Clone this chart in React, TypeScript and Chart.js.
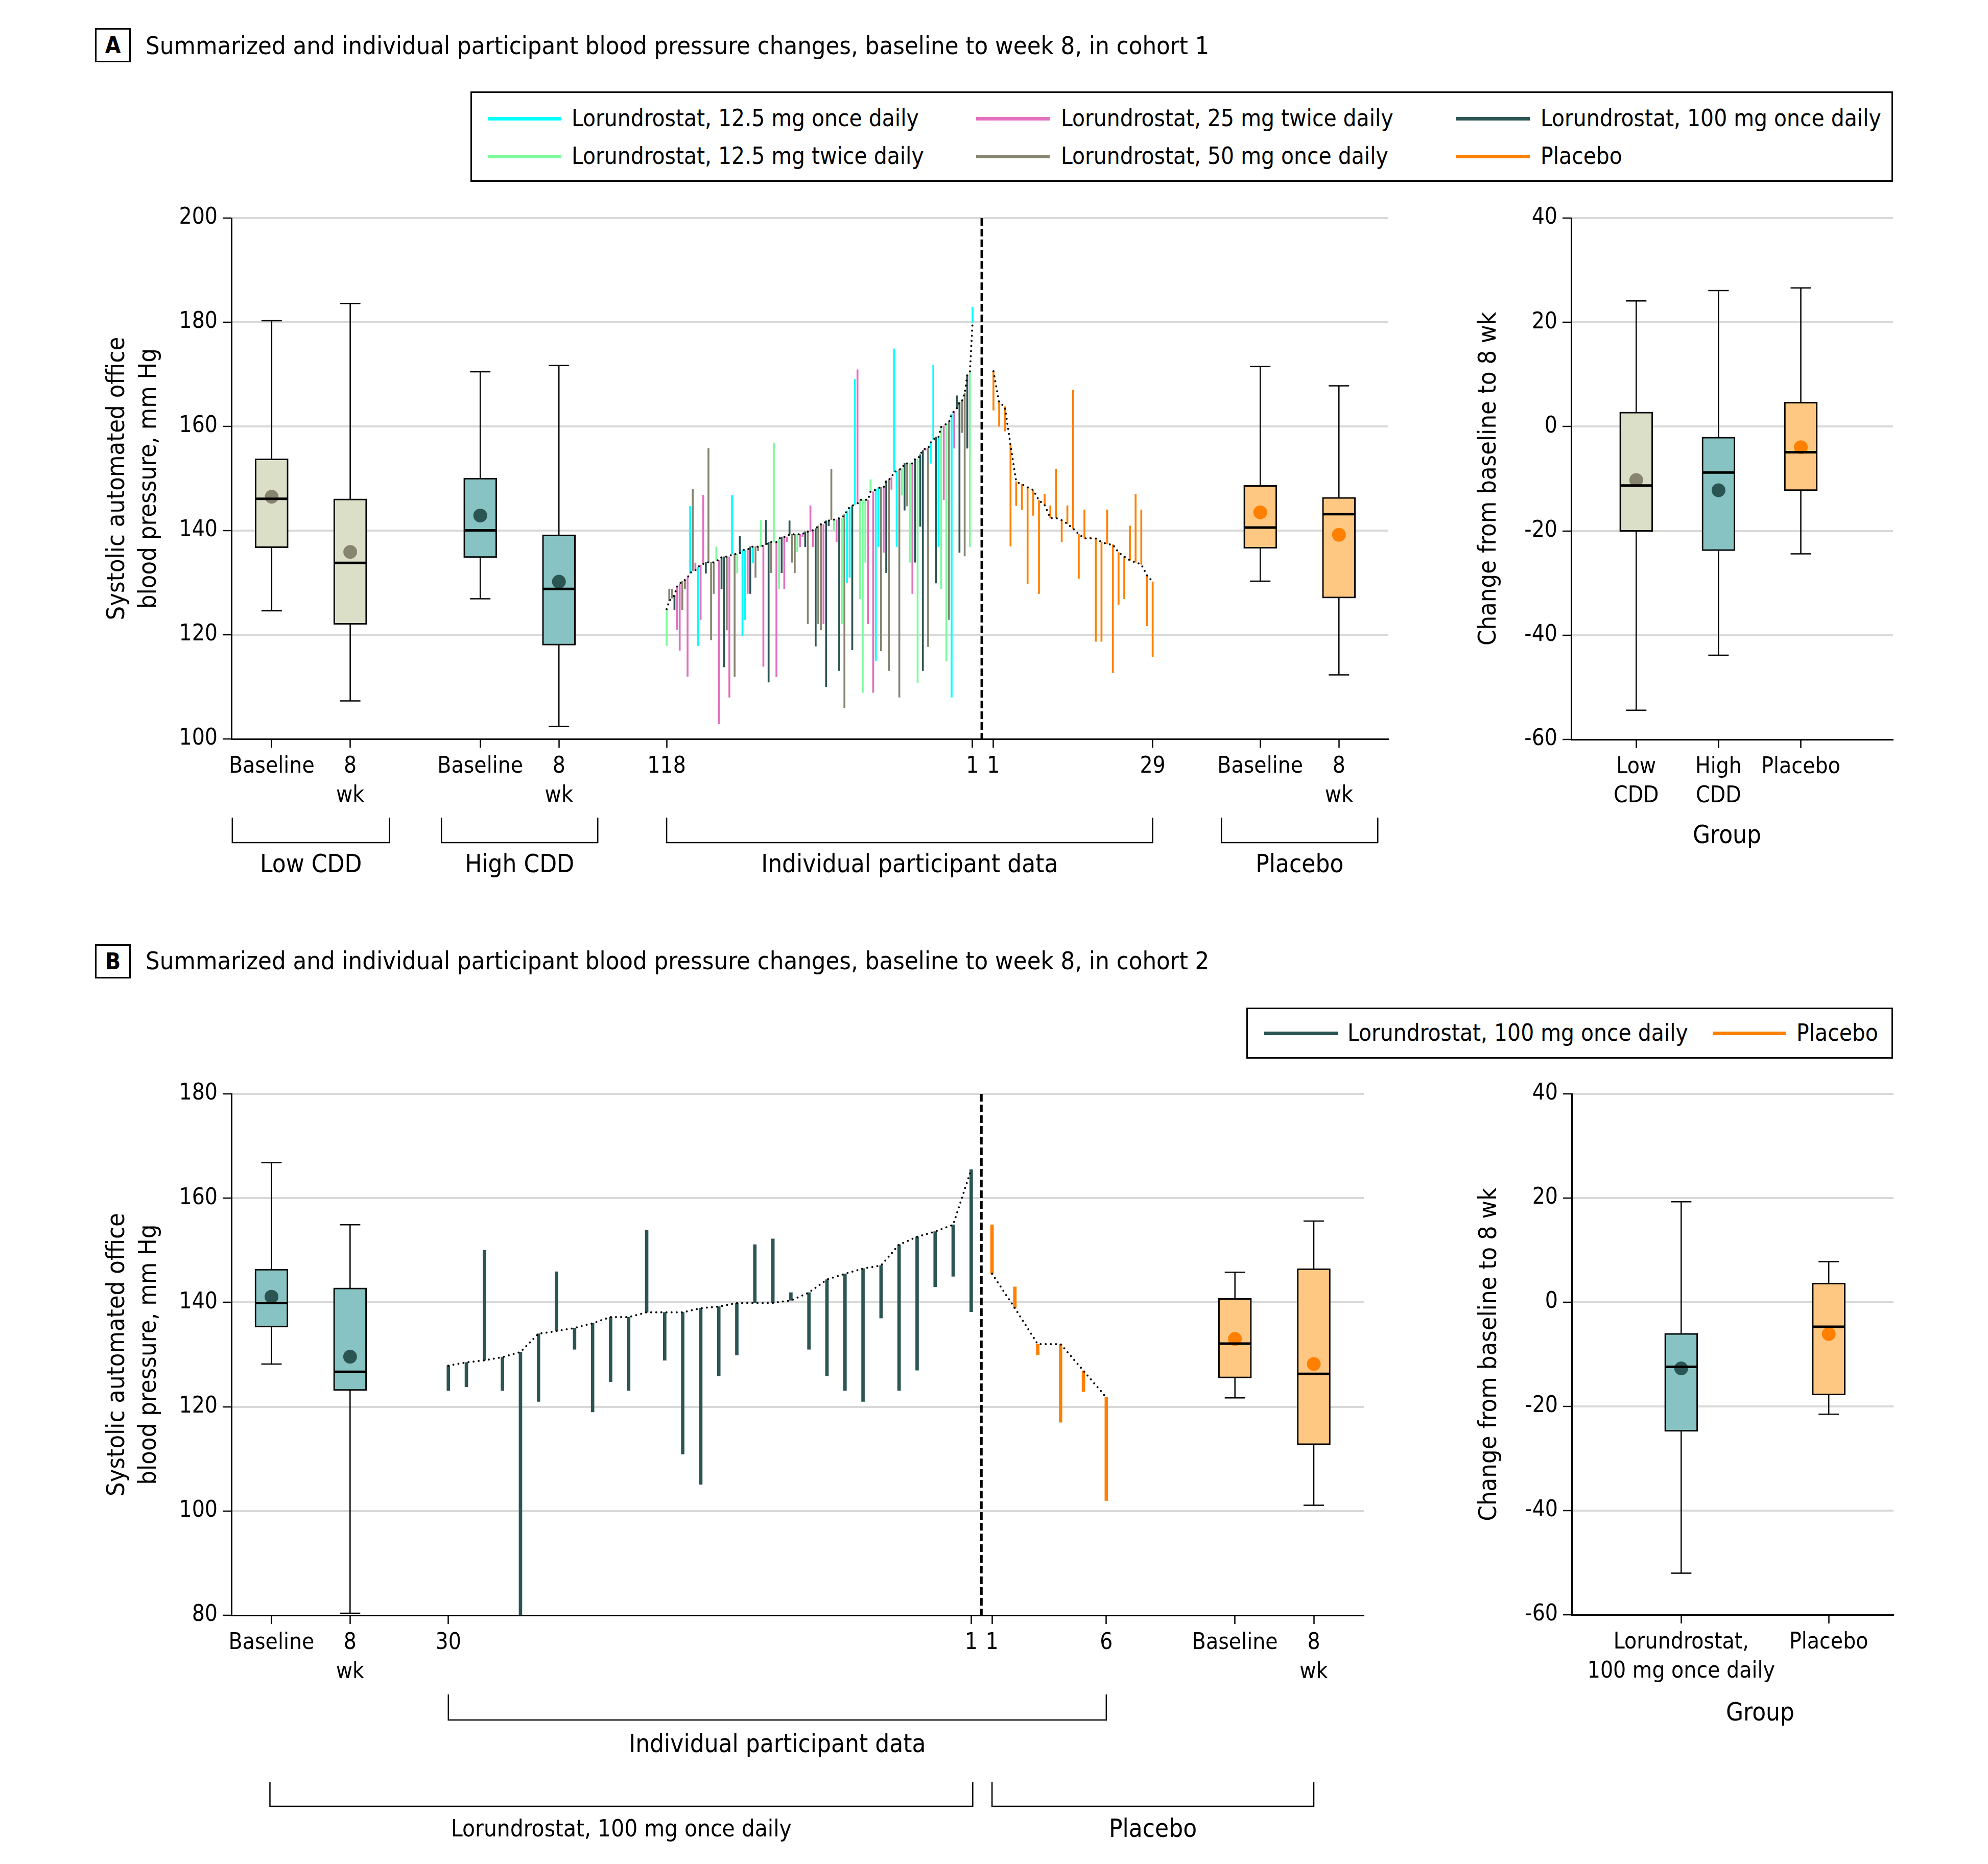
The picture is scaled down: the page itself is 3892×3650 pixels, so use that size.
import React, { useEffect, useRef } from 'react';
import { Chart, registerables } from 'chart.js';

Chart.register(...registerables);

const FONT = '"Liberation Sans Narrow", "DejaVu Sans Condensed", "Arial Narrow", sans-serif';
const FS_TICK = 44;
const FS_AXIS = 48.5;
const FS_LABEL = 49;
const FS_TITLE = 48.5;
const FS_LEGEND = 45.5;

const DOSE_COLORS: Record<string, string> = { C: '#00FFFF', G: '#7DFB9C', P: '#E36FBF', O: '#878570', T: '#2A5553' };
const PLACEBO = '#FF8000';
const FILL_LOW = '#DCDFC8';
const FILL_HIGH = '#87C3C2';
const FILL_PBO = '#FEC883';
const DOT_LOW = '#878570';
const DOT_HIGH = '#2A5553';
const GRID = '#D9D9D9';

// ---------- Cohort 1 individual participants (left -> right: participant 118 ... 1) ----------
// C = 12.5 mg once daily, G = 12.5 mg twice daily, P = 25 mg twice daily, O = 50 mg once daily, T = 100 mg once daily
const A_LOR_GROUP = [
  'G','O','O','T','P','P','O','O','P','C',
  'O','P','C','P','P','T','O','O','O','G',
  'P','T','T','O','P','C','O','G','T','C',
  'C','P','T','C','O','O','G','P','T','T',
  'O','G','P','G','T','P','P','T','O','O',
  'G','P','P','T','O','P','P','T','O','O',
  'P','T','T','O','G','P','T','G','O','C',
  'C','T','C','P','G','G','G','P','G','P',
  'C','C','O','P','T','O','P','C','C','O',
  'G','T','O','G','P','T','G','T','T','P',
  'O','C','C','T','C','G','P','G','O','C',
  'P','T','T','O','O','T','G','C'];
const A_LOR_BASE = [
  124.9, 126.5, 127.0, 127.6, 129.3, 129.8, 130.3, 130.5, 131.0, 131.8,
  132.3, 132.4, 133.0, 133.4, 133.6, 133.9, 133.9, 133.9, 133.9, 134.3,
  134.3, 134.9, 135.0, 135.0, 135.0, 135.5, 135.5, 135.5, 135.6, 136.3,
  136.3, 136.3, 136.9, 136.9, 136.9, 136.9, 136.9, 137.2, 137.3, 137.8,
  137.8, 137.8, 137.8, 138.4, 138.8, 138.8, 138.8, 139.3, 139.3, 139.3,
  139.3, 139.3, 139.3, 139.8, 139.8, 139.8, 140.1, 140.4, 140.9, 141.2,
  141.2, 141.9, 141.9, 142.1, 142.1, 142.1, 142.4, 142.4, 143.1, 143.8,
  144.5, 144.8, 145.0, 145.2, 145.9, 145.9, 145.9, 145.9, 147.5, 147.5,
  147.9, 148.2, 148.3, 148.3, 149.6, 149.8, 150.2, 151.3, 151.4, 151.7,
  151.9, 152.9, 152.9, 152.9, 152.9, 153.7, 153.7, 154.6, 155.4, 155.8,
  155.8, 156.9, 157.4, 158.0, 158.0, 159.9, 160.1, 160.5, 160.8, 162.4,
  162.9, 163.5, 164.7, 164.9, 166.4, 169.9, 170.4, 179.9];
const A_LOR_WK8 = [
  117.9, 128.8, 128.8, 124.8, 121.0, 117.0, 124.8, 128.8, 112.0, 144.7,
  147.9, 133.8, 117.9, 122.9, 146.8, 131.8, 155.8, 119.0, 127.9, 136.9,
  102.9, 128.8, 113.8, 120.9, 108.0, 146.8, 112.0, 131.8, 138.9, 119.8,
  122.9, 127.9, 127.9, 133.8, 131.0, 136.1, 142.0, 113.9, 142.0, 110.9,
  131.9, 156.8, 111.9, 128.8, 131.9, 128.8, 137.8, 141.9, 133.9, 131.9,
  135.9, 136.9, 138.8, 136.9, 122.1, 144.8, 136.9, 117.8, 122.1, 120.9,
  122.1, 110.0, 140.9, 151.8, 140.0, 137.8, 113.1, 122.1, 106.0, 130.0,
  131.0, 117.1, 169.0, 170.9, 126.9, 108.9, 133.9, 122.1, 149.8, 108.9,
  115.0, 136.9, 116.9, 135.8, 131.9, 113.1, 147.9, 174.9, 136.9, 108.0,
  146.8, 143.9, 144.7, 133.9, 127.9, 133.9, 110.8, 140.8, 113.1, 155.4,
  117.7, 152.9, 171.8, 129.9, 136.9, 128.8, 145.9, 114.9, 122.9, 108.0,
  155.8, 165.9, 135.8, 158.8, 135.1, 155.8, 136.9, 182.9];
// Placebo, participant 1 ... 29
const A_PBO_BASE = [170.6, 164.6, 163.8, 156.4, 149.4, 148.9, 148.3, 147.8, 145.8, 144.9, 142.4, 142.4, 142.0, 141.3, 140.4,
  139.3, 138.5, 138.5, 138.5, 137.8, 137.4, 137.3, 135.8, 135.0, 134.3, 133.9, 133.5, 131.4, 130.2];
const A_PBO_WK8 = [163.1, 160.0, 159.1, 137.0, 144.8, 144.0, 129.8, 142.9, 127.9, 147.0, 144.8, 151.8, 137.8, 144.8, 167.0,
  130.8, 144.0, 138.8, 118.7, 118.7, 144.0, 112.7, 125.8, 126.9, 140.9, 147.0, 144.0, 121.7, 115.8];

// ---------- Cohort 2 individual participants ----------
const B_LOR_BASE = [127.9, 128.5, 128.9, 129.5, 130.5, 134.0, 134.5, 135.1, 136.0, 137.2, 137.2, 138.1, 138.1, 138.1, 138.9,
  139.2, 139.9, 139.9, 139.9, 140.4, 141.9, 144.4, 145.5, 146.5, 147.1, 151.1, 152.6, 153.6, 154.9, 165.5];
const B_LOR_WK8 = [123.1, 123.8, 150.0, 123.1, 80.0, 121.0, 145.9, 131.0, 119.0, 124.8, 123.1, 153.9, 128.9, 110.9, 105.1,
  125.9, 129.9, 151.1, 152.2, 141.9, 131.0, 125.9, 123.1, 121.0, 137.0, 123.1, 127.0, 143.0, 145.0, 138.2];
const B_PBO_BASE = [145.5, 138.9, 132.0, 132.0, 126.9, 121.8];
const B_PBO_WK8 = [154.9, 143.0, 129.9, 117.0, 122.9, 102.0];

// ---------- Box summaries [min, q1, median, q3, max, mean] ----------
const A_LOW_BASE = [124.6, 136.7, 146.1, 153.8, 180.3, 146.5];
const A_LOW_WK8 = [107.3, 122.0, 133.8, 146.1, 183.6, 135.9];
const A_HIGH_BASE = [126.9, 134.8, 140.05, 150.1, 170.5, 142.9];
const A_HIGH_WK8 = [102.4, 118.0, 128.8, 139.2, 171.7, 130.2];
const A_PBO_BASE_BOX = [130.3, 136.6, 140.6, 148.7, 171.5, 143.5];
const A_PBO_WK8_BOX = [112.3, 127.05, 143.15, 146.4, 167.8, 139.2];
const A_CHG_LOW = [-54.4, -20.1, -11.3, 2.8, 24.1, -10.25];
const A_CHG_HIGH = [-43.85, -23.8, -8.8, -2.0, 26.1, -12.2];
const A_CHG_PBO = [-24.4, -12.3, -4.9, 4.7, 26.6, -3.95];
const B_LOR_BASE_BOX = [128.2, 135.25, 139.9, 146.4, 166.8, 141.1];
const B_LOR_WK8_BOX = [80.4, 123.1, 126.7, 142.8, 154.9, 129.6];
const B_PBO_BASE_BOX = [121.7, 125.5, 132.1, 140.8, 145.8, 133.0];
const B_PBO_WK8_BOX = [101.1, 112.7, 126.3, 146.5, 155.6, 128.2];
const B_CHG_LOR = [-52.0, -24.8, -12.4, -5.97, 19.3, -12.7];
const B_CHG_PBO = [-21.5, -17.8, -4.7, 3.7, 7.8, -6.1];

// ---------- Tick labels ----------
const A_MAIN_TICKS = ['Baseline', ['8', 'wk'], 'Baseline', ['8', 'wk'], '118', '1', '1', '29', 'Baseline', ['8', 'wk']];
const A_CHG_TICKS = [['Low', 'CDD'], ['High', 'CDD'], 'Placebo'];
const B_MAIN_TICKS = ['Baseline', ['8', 'wk'], '30', '1', '1', '6', 'Baseline', ['8', 'wk']];
const B_CHG_TICKS = [['Lorundrostat,', '100 mg once daily'], 'Placebo'];

// ---------- Layout (positions along x scales, 0-100) ----------
const A_POS = { lowBase: 3.48, low8: 10.27, highBase: 21.51, high8: 28.31, lorFirst: 37.62, lorLast: 64.06, dash: 64.86, pboFirst: 65.87, pboLast: 79.63, pboBase: 88.93, pbo8: 95.73 };
const B_POS = { base: 3.54, wk8: 10.48, lorFirst: 19.16, lorLast: 65.33, dash: 66.23, pboFirst: 67.17, pboLast: 77.26, pboBase: 88.62, pbo8: 95.58 };

const spread = (n: number, a: number, b: number) => Array.from({ length: n }, (_, i) => a + (i * (b - a)) / (n - 1));

function makeDecor(o: any) {
  return {
    id: 'decor',
    beforeDatasetsDraw(chart: any) {
      const { ctx, chartArea } = chart;
      const xs = chart.scales.x, ys = chart.scales.y;
      ctx.save();
      if (o.dashX != null) {
        const px = xs.getPixelForValue(o.dashX);
        ctx.strokeStyle = '#000';
        ctx.lineWidth = 5;
        ctx.setLineDash([15, 6]);
        ctx.beginPath();
        ctx.moveTo(px, chartArea.top);
        ctx.lineTo(px, chartArea.bottom);
        ctx.stroke();
        ctx.setLineDash([]);
      }
      ctx.strokeStyle = '#000';
      ctx.lineWidth = 2.5;
      for (const b of o.boxes) {
        const px = xs.getPixelForValue(b.x);
        const y0 = ys.getPixelForValue(b.s[0]);
        const y4 = ys.getPixelForValue(b.s[4]);
        ctx.beginPath();
        ctx.moveTo(px, y0); ctx.lineTo(px, y4);
        ctx.moveTo(px - 20, y0); ctx.lineTo(px + 20, y0);
        ctx.moveTo(px - 20, y4); ctx.lineTo(px + 20, y4);
        ctx.stroke();
      }
      ctx.restore();
    },
    afterDatasetsDraw(chart: any) {
      const { ctx } = chart;
      const xs = chart.scales.x, ys = chart.scales.y;
      ctx.save();
      ctx.strokeStyle = '#000';
      ctx.lineWidth = 5;
      for (const b of o.boxes) {
        const px = xs.getPixelForValue(b.x);
        const ym = ys.getPixelForValue(b.s[2]);
        ctx.beginPath();
        ctx.moveTo(px - 31, ym); ctx.lineTo(px + 31, ym);
        ctx.stroke();
      }
      ctx.restore();
    },
    afterDraw(chart: any) {
      const { ctx, chartArea } = chart;
      const xs = chart.scales.x;
      ctx.save();
      ctx.fillStyle = '#000';
      ctx.strokeStyle = '#000';
      ctx.textAlign = 'center';
      ctx.textBaseline = 'middle';
      const cy = (chartArea.top + chartArea.bottom) / 2;
      ctx.font = `${FS_AXIS}px ${FONT}`;
      o.yTitle.forEach((t: any) => {
        ctx.save();
        ctx.translate(chartArea.left + t.dx, cy);
        ctx.rotate(-Math.PI / 2);
        ctx.fillText(t.text, 0, 0);
        ctx.restore();
      });
      ctx.font = `${FS_LABEL}px ${FONT}`;
      if (o.xTitle) ctx.fillText(o.xTitle.text, chartArea.left + o.xTitle.dx, chartArea.bottom + o.xTitle.dy);
      ctx.lineWidth = 2.5;
      for (const br of o.brackets || []) {
        const x1 = xs.getPixelForValue(br.from) - br.pad;
        const x2 = xs.getPixelForValue(br.to) + br.pad;
        const y1 = chartArea.bottom + br.top;
        const y2 = chartArea.bottom + br.bot;
        ctx.beginPath();
        ctx.moveTo(x1, y1); ctx.lineTo(x1, y2); ctx.lineTo(x2, y2); ctx.lineTo(x2, y1);
        ctx.stroke();
        ctx.font = `${br.fs || FS_LABEL}px ${FONT}`;
        ctx.fillText(br.label, (x1 + x2) / 2, chartArea.bottom + br.ly);
      }
      ctx.restore();
    },
  };
}

function axisFont() {
  return { family: FONT, size: FS_TICK, lineHeight: 57 / FS_TICK };
}

function scalesFor(p: any) {
  return {
    x: {
      type: 'linear', min: p.xMin, max: p.xMax, offset: false,
      afterBuildTicks: (ax: any) => { ax.ticks = p.tickPos.map((v: number) => ({ value: v })); },
      afterFit: (ax: any) => { ax.height = p.xAxisH; },
      ticks: { autoSkip: false, maxRotation: 0, minRotation: 0, padding: 9, color: '#000', font: axisFont(), callback: (_v: any, i: number) => p.tickLabels[i] },
      grid: { display: true, drawOnChartArea: false, drawTicks: true, tickLength: 17, tickColor: '#000', tickWidth: 2.5, offset: false },
      border: { display: true, color: '#000', width: 3 },
    },
    y: {
      type: 'linear', min: p.yMin, max: p.yMax, beginAtZero: false,
      afterFit: (ax: any) => { ax.width = p.yAxisW; },
      ticks: { stepSize: 20, padding: 10, color: '#000', font: axisFont() },
      grid: { color: (c: any) => (c.tick && c.tick.value === p.yMin ? 'rgba(0,0,0,0)' : GRID), lineWidth: 4, tickColor: '#000', tickWidth: 2.5, tickLength: 17 },
      border: { display: true, color: '#000', width: 3 },
    },
  };
}

function boxDatasets(boxes: any[]) {
  return [
    {
      type: 'scatter', order: 0,
      data: boxes.map((b) => ({ x: b.x, y: b.s[5] })),
      pointRadius: 13.5, pointBackgroundColor: boxes.map((b) => b.dot), pointBorderWidth: 0, pointBorderColor: 'rgba(0,0,0,0)',
    },
    {
      type: 'bar', order: 3, grouped: false, barThickness: 65,
      data: boxes.map((b) => ({ x: b.x, y: [b.s[1], b.s[3]] })),
      backgroundColor: boxes.map((b) => b.fill), borderColor: '#000', borderWidth: 3, borderSkipped: false,
    },
  ];
}

function mainConfig(p: any) {
  const lorX = spread(p.lorBase.length, p.lorFirst, p.lorLast);
  const pboX = spread(p.pboBase.length, p.pboFirst, p.pboLast);
  const dotted = { type: 'line', order: 1, borderColor: '#000', borderWidth: 4, borderDash: [0, 10], borderCapStyle: 'round', pointRadius: 0, fill: false, tension: 0 };
  return {
    type: 'bar',
    data: {
      datasets: [
        ...boxDatasets(p.boxes),
        { ...dotted, data: lorX.map((x, i) => ({ x, y: p.lorBase[i] })) },
        { ...dotted, data: pboX.map((x, i) => ({ x, y: p.pboBase[i] })) },
        {
          type: 'bar', order: 2, grouped: false, barThickness: p.barW, borderWidth: 0,
          data: lorX.map((x, i) => ({ x, y: [p.lorBase[i], p.lorWk8[i]] })),
          backgroundColor: p.lorColors,
        },
        {
          type: 'bar', order: 2, grouped: false, barThickness: p.barW, borderWidth: 0,
          data: pboX.map((x, i) => ({ x, y: [p.pboBase[i], p.pboWk8[i]] })),
          backgroundColor: PLACEBO,
        },
      ],
    },
    options: {
      responsive: false, animation: false, events: [],
      layout: { padding: { top: p.padTop, right: p.padRight, left: 0, bottom: 0 } },
      plugins: { legend: { display: false }, tooltip: { enabled: false }, title: { display: false } },
      scales: scalesFor({ ...p, xMin: 0, xMax: 100 }),
    },
    plugins: [makeDecor({ boxes: p.boxes, dashX: p.dash, yTitle: p.yTitle, brackets: p.brackets })],
  };
}

function changeConfig(p: any) {
  return {
    type: 'bar',
    data: { datasets: boxDatasets(p.boxes) },
    options: {
      responsive: false, animation: false, events: [],
      layout: { padding: { top: p.padTop, right: p.padRight, left: 0, bottom: 0 } },
      plugins: { legend: { display: false }, tooltip: { enabled: false } },
      scales: scalesFor(p),
    },
    plugins: [makeDecor({ boxes: p.boxes, yTitle: p.yTitle, xTitle: p.xTitle })],
  };
}

const MAIN_Y_TITLE = [
  { text: 'Systolic automated office', dx: -223 },
  { text: 'blood pressure, mm Hg', dx: -161 },
];
const CHG_Y_TITLE = [{ text: 'Change from baseline to 8 wk', dx: -161 }];

function configA() {
  const boxes = [
    { x: A_POS.lowBase, s: A_LOW_BASE, fill: FILL_LOW, dot: DOT_LOW },
    { x: A_POS.low8, s: A_LOW_WK8, fill: FILL_LOW, dot: DOT_LOW },
    { x: A_POS.highBase, s: A_HIGH_BASE, fill: FILL_HIGH, dot: DOT_HIGH },
    { x: A_POS.high8, s: A_HIGH_WK8, fill: FILL_HIGH, dot: DOT_HIGH },
    { x: A_POS.pboBase, s: A_PBO_BASE_BOX, fill: FILL_PBO, dot: PLACEBO },
    { x: A_POS.pbo8, s: A_PBO_WK8_BOX, fill: FILL_PBO, dot: PLACEBO },
  ];
  const br = (from: number, to: number, pad: number, label: string) => ({ from, to, pad, label, top: 154, bot: 203, ly: 248 });
  return mainConfig({
    boxes,
    lorBase: A_LOR_BASE, lorWk8: A_LOR_WK8, lorColors: A_LOR_GROUP.map((g) => DOSE_COLORS[g]),
    pboBase: A_PBO_BASE, pboWk8: A_PBO_WK8,
    lorFirst: A_POS.lorFirst, lorLast: A_POS.lorLast, pboFirst: A_POS.pboFirst, pboLast: A_POS.pboLast, dash: A_POS.dash,
    barW: 3,
    tickPos: [A_POS.lowBase, A_POS.low8, A_POS.highBase, A_POS.high8, A_POS.lorFirst, A_POS.lorLast, A_POS.pboFirst, A_POS.pboLast, A_POS.pboBase, A_POS.pbo8],
    tickLabels: A_MAIN_TICKS,
    yMin: 100, yMax: 200, yAxisW: 453, xAxisH: 333, padTop: 47, padRight: 52,
    yTitle: MAIN_Y_TITLE,
    brackets: [
      br(A_POS.lowBase, A_POS.low8, 77, 'Low CDD'),
      br(A_POS.highBase, A_POS.high8, 76, 'High CDD'),
      br(A_POS.lorFirst, A_POS.pboLast, 0, 'Individual participant data'),
      br(A_POS.pboBase, A_POS.pbo8, 76, 'Placebo'),
    ],
  });
}

function configB() {
  const boxes = [
    { x: B_POS.base, s: B_LOR_BASE_BOX, fill: FILL_HIGH, dot: DOT_HIGH },
    { x: B_POS.wk8, s: B_LOR_WK8_BOX, fill: FILL_HIGH, dot: DOT_HIGH },
    { x: B_POS.pboBase, s: B_PBO_BASE_BOX, fill: FILL_PBO, dot: PLACEBO },
    { x: B_POS.pbo8, s: B_PBO_WK8_BOX, fill: FILL_PBO, dot: PLACEBO },
  ];
  return mainConfig({
    boxes,
    lorBase: B_LOR_BASE, lorWk8: B_LOR_WK8, lorColors: B_LOR_BASE.map(() => DOSE_COLORS.T),
    pboBase: B_PBO_BASE, pboWk8: B_PBO_WK8,
    lorFirst: B_POS.lorFirst, lorLast: B_POS.lorLast, pboFirst: B_POS.pboFirst, pboLast: B_POS.pboLast, dash: B_POS.dash,
    barW: 6,
    tickPos: [B_POS.base, B_POS.wk8, B_POS.lorFirst, B_POS.lorLast, B_POS.pboFirst, B_POS.pboLast, B_POS.pboBase, B_POS.pbo8],
    tickLabels: B_MAIN_TICKS,
    yMin: 80, yMax: 180, yAxisW: 453, xAxisH: 477, padTop: 42, padRight: 50,
    yTitle: MAIN_Y_TITLE,
    brackets: [
      { from: B_POS.lorFirst, to: B_POS.pboLast, pad: 0, label: 'Individual participant data', top: 155, bot: 205, ly: 255 },
      { from: B_POS.base, to: B_POS.lorLast, pad: 3, label: 'Lorundrostat, 100 mg once daily', top: 327, bot: 374, ly: 421, fs: 45.5 },
      { from: B_POS.pboFirst, to: B_POS.pbo8, pad: 0, label: 'Placebo', top: 327, bot: 374, ly: 421 },
    ],
  });
}

function configAChange() {
  return changeConfig({
    boxes: [
      { x: 1, s: A_CHG_LOW, fill: FILL_LOW, dot: DOT_LOW },
      { x: 2, s: A_CHG_HIGH, fill: FILL_HIGH, dot: DOT_HIGH },
      { x: 3, s: A_CHG_PBO, fill: FILL_PBO, dot: PLACEBO },
    ],
    xMin: 0.21, xMax: 4.12, tickPos: [1, 2, 3], tickLabels: A_CHG_TICKS,
    yMin: -60, yMax: 40, yAxisW: 276, xAxisH: 332, padTop: 47, padRight: 94,
    yTitle: CHG_Y_TITLE, xTitle: { text: 'Group', dx: 305, dy: 190 },
  });
}

function configBChange() {
  return changeConfig({
    boxes: [
      { x: 1, s: B_CHG_LOR, fill: FILL_HIGH, dot: DOT_HIGH },
      { x: 2, s: B_CHG_PBO, fill: FILL_PBO, dot: PLACEBO },
    ],
    xMin: 0.258, xMax: 2.439, tickPos: [1, 2], tickLabels: B_CHG_TICKS,
    yMin: -60, yMax: 40, yAxisW: 277, xAxisH: 478, padTop: 42, padRight: 93,
    yTitle: CHG_Y_TITLE, xTitle: { text: 'Group', dx: 369, dy: 194 },
  });
}

function ChartBox({ left, top, width, height, make }: any) {
  const ref = useRef<HTMLCanvasElement>(null);
  useEffect(() => {
    const chart = new Chart(ref.current as HTMLCanvasElement, make());
    return () => chart.destroy();
  }, []);
  return <canvas ref={ref} width={width} height={height} style={{ position: 'absolute', left, top, width, height }} />;
}

function Txt({ x, cy, size, children }: any) {
  return (
    <div style={{ position: 'absolute', left: x, top: cy, transform: 'translateY(-50%)', fontFamily: FONT, fontSize: size, lineHeight: 1, whiteSpace: 'nowrap', color: '#000' }}>{children}</div>
  );
}

function PanelLabel({ x, y, letter }: any) {
  return (
    <div style={{ position: 'absolute', left: x, top: y, width: 70, height: 67, boxSizing: 'border-box', border: '3px solid #000', display: 'flex', alignItems: 'center', justifyContent: 'center', fontFamily: FONT, fontWeight: 'bold', fontSize: 44, color: '#000' }}>{letter}</div>
  );
}

function LegendItem({ x, cy, color, label, textX }: any) {
  return (
    <>
      <div style={{ position: 'absolute', left: x, top: cy - 3.5, width: 144, height: 7, background: color }} />
      <Txt x={textX} cy={cy} size={FS_LEGEND}>{label}</Txt>
    </>
  );
}

export default function App() {
  return (
    <div style={{ position: 'absolute', left: 0, top: 0, width: 3892, height: 3650, background: '#fff', overflow: 'hidden' }}>
      <PanelLabel x={186} y={55} letter="A" />
      <Txt x={285} cy={89} size={FS_TITLE}>Summarized and individual participant blood pressure changes, baseline to week 8, in cohort 1</Txt>
      <div style={{ position: 'absolute', left: 921, top: 179, width: 2785, height: 177, boxSizing: 'border-box', border: '3px solid #000' }} />
      <LegendItem x={955} cy={232} textX={1119} color={DOSE_COLORS.C} label="Lorundrostat, 12.5 mg once daily" />
      <LegendItem x={1911} cy={232} textX={2077} color={DOSE_COLORS.P} label="Lorundrostat, 25 mg twice daily" />
      <LegendItem x={2851} cy={232} textX={3016} color={DOSE_COLORS.T} label="Lorundrostat, 100 mg once daily" />
      <LegendItem x={955} cy={306} textX={1119} color={DOSE_COLORS.G} label="Lorundrostat, 12.5 mg twice daily" />
      <LegendItem x={1911} cy={306} textX={2077} color={DOSE_COLORS.O} label="Lorundrostat, 50 mg once daily" />
      <LegendItem x={2851} cy={306} textX={3016} color={PLACEBO} label="Placebo" />
      <ChartBox left={0} top={380} width={2770} height={1400} make={configA} />
      <ChartBox left={2800} top={380} width={1000} height={1400} make={configAChange} />

      <PanelLabel x={186} y={1849} letter="B" />
      <Txt x={285} cy={1881} size={FS_TITLE}>Summarized and individual participant blood pressure changes, baseline to week 8, in cohort 2</Txt>
      <div style={{ position: 'absolute', left: 2440, top: 1973, width: 1266, height: 100, boxSizing: 'border-box', border: '3px solid #000' }} />
      <LegendItem x={2475} cy={2023} textX={2638} color={DOSE_COLORS.T} label="Lorundrostat, 100 mg once daily" />
      <LegendItem x={3353} cy={2023} textX={3517} color={PLACEBO} label="Placebo" />
      <ChartBox left={0} top={2100} width={2720} height={1540} make={configB} />
      <ChartBox left={2800} top={2100} width={1000} height={1540} make={configBChange} />
    </div>
  );
}
